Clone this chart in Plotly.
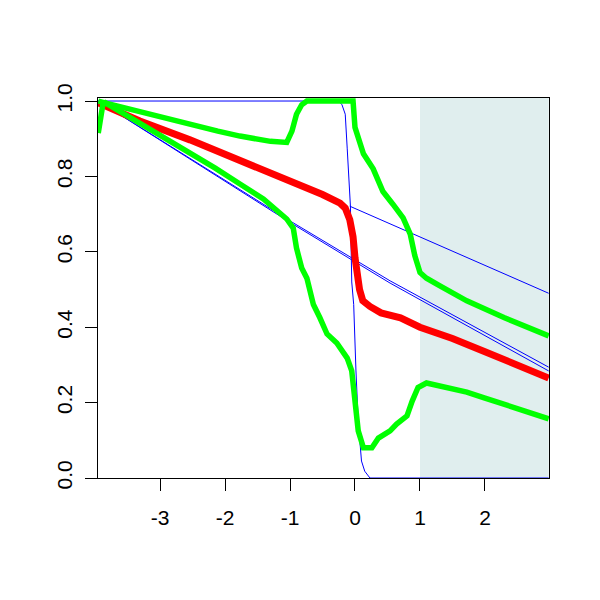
import plotly.graph_objects as go

# ---- data ----
red_x = [-3.95, -3.31, -2.54, -1.77, -1.0, -0.5, -0.23, -0.15, -0.08, -0.03, 0.0, 0.03, 0.07, 0.12,
         0.23, 0.4, 0.7, 1.0, 1.5, 2.0, 2.5, 2.98]
red_y = [0.995, 0.947, 0.897, 0.843, 0.788, 0.752, 0.729, 0.716, 0.685, 0.64, 0.585, 0.53, 0.5, 0.47,
         0.455, 0.438, 0.425, 0.40, 0.37, 0.335, 0.30, 0.265]

gup_x = [-3.95, -3.85, -2.11, -1.77, -1.3, -1.05, -0.97, -0.9, -0.82, -0.74, -0.5, -0.1, -0.03,
         0.0, 0.13, 0.28, 0.43, 0.58, 0.74, 0.85, 0.92, 1.0, 1.1, 1.3, 1.72, 2.3, 2.98]
gup_y = [1.0, 0.995, 0.92, 0.907, 0.893, 0.89, 0.92, 0.965, 0.99, 1.0, 1.0, 1.0, 1.0,
         0.93, 0.86, 0.82, 0.76, 0.727, 0.69, 0.647, 0.59, 0.545, 0.53, 0.51, 0.47, 0.425, 0.377]

glo_x = [-3.95, -3.92, -3.88, -3.84, -3.49, -2.97, -2.15, -1.77, -1.41, -1.05, -0.95, -0.9, -0.82,
         -0.74, -0.64, -0.54, -0.43, -0.28, -0.12, -0.05, 0.0, 0.05, 0.13, 0.26, 0.36, 0.54, 0.64,
         0.8, 0.88, 0.97, 1.1, 1.4, 1.72, 2.0, 2.5, 2.98]
glo_y = [0.915, 0.96, 0.99, 0.995, 0.96, 0.907, 0.822, 0.78, 0.74, 0.687, 0.663, 0.61, 0.557,
         0.53, 0.46, 0.425, 0.382, 0.358, 0.318, 0.284, 0.196, 0.125, 0.08, 0.08, 0.106, 0.125, 0.143,
         0.165, 0.204, 0.24, 0.252, 0.242, 0.228, 0.212, 0.185, 0.157]

blue_a_x = [-3.95, -1.92, -1.0, 0.54, 2.98]
blue_a_y = [1.0, 0.782, 0.682, 0.523, 0.294]
blue_b_x = [-3.95, -1.92, -1.0, 0.54, 2.98]
blue_b_y = [1.0, 0.778, 0.678, 0.517, 0.284]

blue_c_x = [-0.08, 2.98]
blue_c_y = [0.721, 0.49]

step_x = [-3.95, -0.25, -0.2, -0.15, -0.12, -0.09, -0.07, -0.05, -0.02, 0.015, 0.05, 0.1, 0.15, 0.23, 2.98]
step_y = [1.0, 1.0, 0.99, 0.965, 0.875, 0.79, 0.72, 0.52, 0.46, 0.284, 0.15, 0.045, 0.018, 0.0, 0.0]

shade_x = [1.0, 2.98]
x_ticks = [-3, -2, -1, 0, 1, 2]
y_ticks = [0.0, 0.2, 0.4, 0.6, 0.8, 1.0]
y_tick_text = ["0.0", "0.2", "0.4", "0.6", "0.8", "1.0"]

BLUE = "#0000FF"
RED = "#FF0000"
GREEN = "#00FF00"

fig = go.Figure()
for xs, ys in [(step_x, step_y), (blue_a_x, blue_a_y), (blue_b_x, blue_b_y), (blue_c_x, blue_c_y)]:
    fig.add_trace(go.Scatter(x=xs, y=ys, mode="lines", line=dict(color=BLUE, width=1), hoverinfo="skip"))
fig.add_trace(go.Scatter(x=red_x, y=red_y, mode="lines", line=dict(color=RED, width=7), hoverinfo="skip"))
fig.add_trace(go.Scatter(x=gup_x, y=gup_y, mode="lines", line=dict(color=GREEN, width=5.5), hoverinfo="skip"))
fig.add_trace(go.Scatter(x=glo_x, y=glo_y, mode="lines", line=dict(color=GREEN, width=5.5), hoverinfo="skip"))

fig.add_shape(type="rect", xref="x", yref="paper", x0=shade_x[0], x1=shade_x[1], y0=0, y1=1,
              fillcolor="#E0EEEE", line=dict(width=0), layer="below")

font = dict(family="Liberation Sans, Arial", size=21, color="black")
fig.update_layout(
    width=600, height=600, showlegend=False,
    paper_bgcolor="white", plot_bgcolor="white",
    margin=dict(l=90, r=59, t=90, b=130),
    font=font,
    xaxis=dict(range=[-3.954, 2.985], tickvals=x_ticks, ticktext=[str(v) for v in x_ticks],
               showgrid=False, zeroline=False, showline=True, mirror=True, linecolor="black",
               linewidth=1, ticks="outside", ticklen=12, tickcolor="black", tickfont=font,
               ticklabelstandoff=9),
    yaxis=dict(range=[0, 1.008], tickvals=y_ticks, ticktext=y_tick_text,
               showgrid=False, zeroline=False, showline=True, mirror=True, linecolor="black",
               linewidth=1, ticks="outside", ticklen=12, tickcolor="black", tickfont=font,
               tickangle=-90, ticklabelstandoff=5),
)
fig.write_html("out.html")
